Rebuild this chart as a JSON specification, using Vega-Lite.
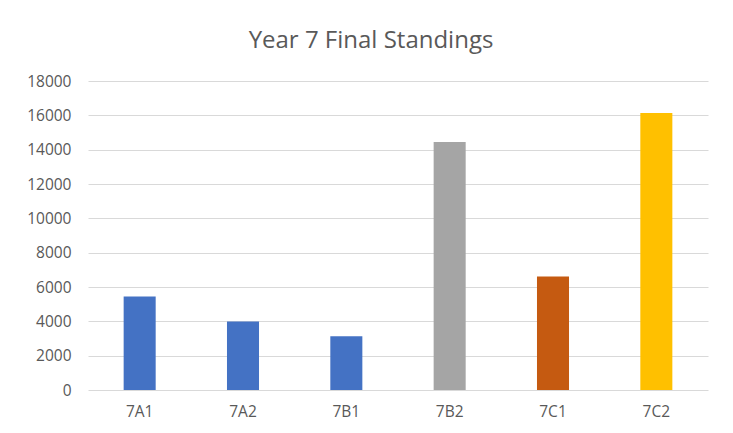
{
  "$schema": "https://vega.github.io/schema/vega-lite/v6.json",
  "width": 620,
  "height": 309,
  "autosize": "none",
  "padding": {"left": 88, "top": 81, "right": 25, "bottom": 43},
  "background": "white",
  "title": {
    "text": "Year 7 Final Standings",
    "font": "Open Sans",
    "fontSize": 24,
    "fontWeight": "normal",
    "color": "#595959",
    "anchor": "middle",
    "frame": "group",
    "baseline": "alphabetic",
    "offset": 2,
    "dx": -27
  },
  "data": {
    "values": [
      {"group": "7A1", "points": 5450},
      {"group": "7A2", "points": 3990},
      {"group": "7B1", "points": 3130},
      {"group": "7B2", "points": 14450},
      {"group": "7C1", "points": 6610},
      {"group": "7C2", "points": 16130}
    ]
  },
  "mark": {"type": "bar"},
  "encoding": {
    "x": {
      "field": "group",
      "type": "nominal",
      "sort": null,
      "scale": {"paddingInner": 0.69, "paddingOuter": 0.345},
      "axis": {
        "title": null,
        "labelAngle": 0,
        "ticks": false,
        "domain": false,
        "labelFont": "Open Sans",
        "labelFontSize": 15.5,
        "labelColor": "#595959",
        "labelPadding": 14
      }
    },
    "y": {
      "field": "points",
      "type": "quantitative",
      "scale": {"domain": [0, 18000]},
      "axis": {
        "title": null,
        "values": [0, 2000, 4000, 6000, 8000, 10000, 12000, 14000, 16000, 18000],
        "format": "d",
        "ticks": false,
        "domain": false,
        "grid": true,
        "gridColor": "#D9D9D9",
        "gridWidth": 1.2,
        "labelFont": "Open Sans",
        "labelFontSize": 15.5,
        "labelColor": "#595959",
        "labelPadding": 17
      }
    },
    "color": {
      "field": "group",
      "type": "nominal",
      "scale": {
        "domain": ["7A1", "7A2", "7B1", "7B2", "7C1", "7C2"],
        "range": ["#4472C4", "#4472C4", "#4472C4", "#A5A5A5", "#C55A11", "#FFC000"]
      },
      "legend": null
    }
  },
  "config": {"view": {"stroke": null}}
}
